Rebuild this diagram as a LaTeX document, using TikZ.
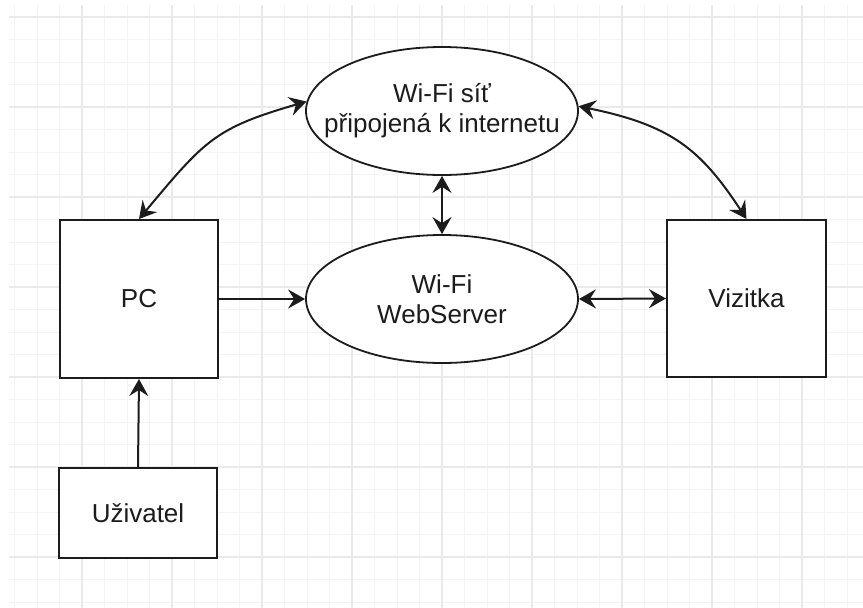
\documentclass[tikz,border=0pt]{standalone}
\usepackage{fontspec}
\setmainfont{Liberation Sans}
\usetikzlibrary{arrows.meta,shapes.geometric}
\definecolor{gridminor}{HTML}{F4F4F4}
\definecolor{gridmajor}{HTML}{EAEAEA}
\definecolor{inkcol}{HTML}{1C1C1C}
\begin{document}
\begin{tikzpicture}[x=1pt,y=-1pt,
  font=\fontsize{26}{30}\selectfont,
  every node/.style={text=inkcol},
  boxnode/.style={draw=inkcol,line width=2pt,fill=white,inner sep=0pt},
  ellnode/.style={ellipse,draw=inkcol,line width=1.8pt,fill=white,inner sep=0pt,
    minimum width=272pt,minimum height=128pt},
  link/.style={draw=inkcol,line width=2pt,{Stealth[length=17pt,width=19pt,inset=6pt]}-{Stealth[length=17pt,width=19pt,inset=6pt]}},
  linkone/.style={draw=inkcol,line width=2pt,-{Stealth[length=17pt,width=19pt,inset=6pt]}}]
  \useasboundingbox (0,0) rectangle (863,608);
  % background grid
  \fill[white] (0,0) rectangle (863,608);
  \begin{scope}
    \clip (9,5) rectangle (863,608);
    \foreach \i in {0,...,39} {
      \draw[gridminor,line width=1pt] ({14.5+22.5*\i},5) -- ({14.5+22.5*\i},608);
    }
    \foreach \j in {0,...,27} {
      \draw[gridminor,line width=1pt] (9,{17+22.5*\j}) -- (863,{17+22.5*\j});
    }
    \foreach \i in {0,...,9} {
      \draw[gridmajor,line width=1.2pt] ({82+90*(\i-1)},5) -- ({82+90*(\i-1)},608);
    }
    \foreach \j in {0,...,6} {
      \draw[gridmajor,line width=1.2pt] (9,{17+90*\j}) -- (863,{17+90*\j});
    }
  \end{scope}
  % nodes
  \node[boxnode,minimum width=158pt,minimum height=158pt] (pc) at (139,299) {PC};
  \node[boxnode,minimum width=158pt,minimum height=90pt] (uz) at (138,513) {Uživatel};
  \node[boxnode,minimum width=159pt,minimum height=157pt] (viz) at (746.5,298.5) {Vizitka};
  \node[ellnode,label={[align=center,inner sep=0pt]center:Wi-Fi síť\\připojená k internetu}] (net) at (442,111) {};
  \node[ellnode,label={[align=center,inner sep=0pt]center:Wi-Fi\\WebServer}] (web) at (442,299) {};
  % connectors
  \draw[link] (pc.north) .. controls (205,140) and (215,128) .. (net.176);
  \draw[link] (net.2) .. controls (670,125) and (700,148) .. (viz.north);
  \draw[link] (net.south) -- (web.north);
  \draw[linkone] (pc.east) -- (web.west);
  \draw[link] (web.east) -- (viz.west);
  \draw[linkone] (uz.north) -- (pc.south);
\end{tikzpicture}
\end{document}
